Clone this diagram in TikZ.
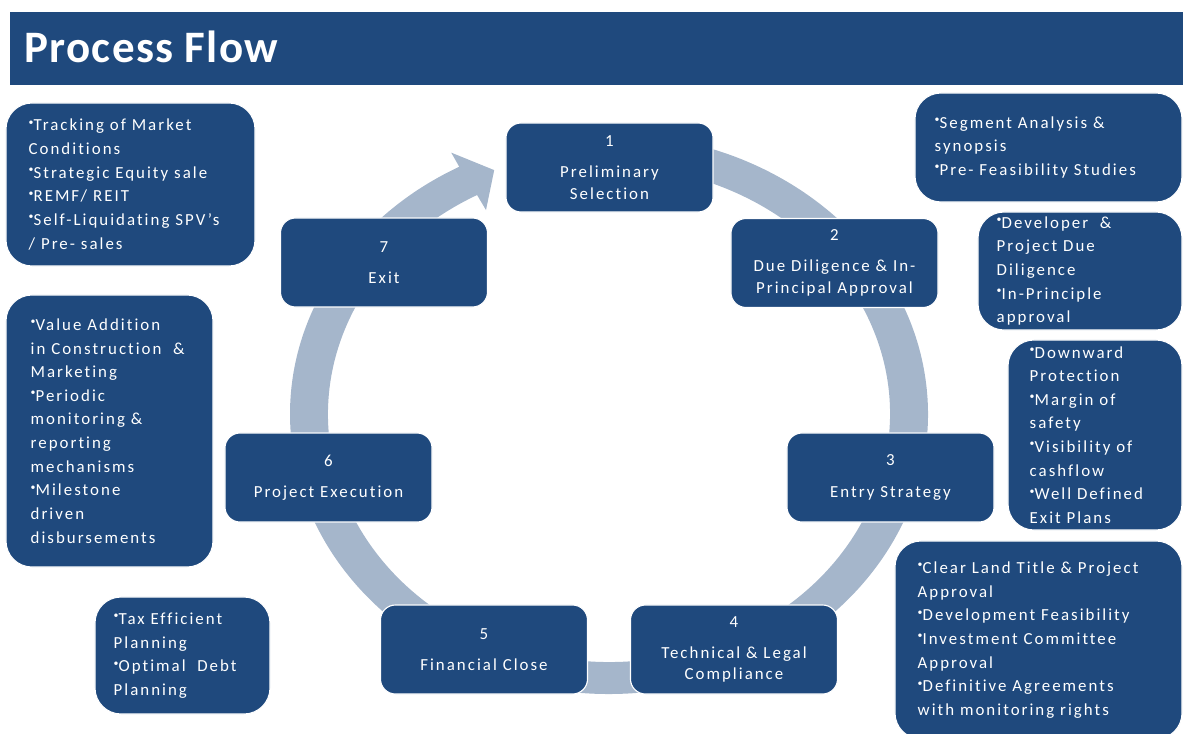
\documentclass[tikz,border=0pt]{standalone}
\usepackage{fontspec}
\setmainfont{Carlito}
\newfontfamily\spacedfont[LetterSpace=12, Ligatures=NoCommon]{Carlito}
\newfontfamily\headfont[LetterSpace=3]{Carlito}
\usetikzlibrary{calc}
\definecolor{flowblue}{HTML}{1F497D}
\colorlet{ringblue}{flowblue!40}
\newcommand{\bul}{\raisebox{4pt}{\fontsize{7}{7}\selectfont•}}
\tikzset{
	stagebox/.style={draw=white, line width=0.8pt, fill=flowblue, rounded corners=0.375cm,
		minimum width=5.175cm, minimum height=2.225cm, inner sep=0pt, align=center,
		text=white, font=\spacedfont\fontsize{12}{15.3}\selectfont},
	notebox/.style={draw=white, line width=0.8pt, fill=flowblue, rounded corners=0.65cm},
	notetext/.style={anchor=west, inner sep=0pt, align=left, text=white,
		font=\spacedfont\fontsize{12}{16.8}\selectfont}
}

\begin{document}
\begin{tikzpicture}[x=0.025cm, y=0.025cm]
			%%%%% START %%%%%
			\useasboundingbox (0, 0) rectangle (1183, 733);
			
			\fill[flowblue] (10, 648) rectangle (1183, 721);
			\node[anchor=base west, inner sep=0pt, text=white, font=\headfont\bfseries\fontsize{32}{36}\selectfont] (title) at (24, 670) {Process Flow};
			
			% ring with arrow head into stage 1
			\coordinate (ring) at (609, 319);
			\fill[ringblue] ($(ring)+(95:319 and 280)$) arc[start angle=95, end angle=-242, x radius=319, y radius=280]
				-- ($(ring)+(118:336 and 296)$) -- ($(ring)+(112.5:300 and 264)$) -- ($(ring)+(118:262 and 231)$)
				-- ($(ring)+(118:281 and 248)$) arc[start angle=-242, end angle=95, x radius=281, y radius=248] -- cycle;
			
			% stages
			\node[stagebox] (prelim) at (609.5, 565.5) {1\\[6.8pt]Preliminary\\Selection};
			\node[stagebox] (diligence) at (834.5, 470) {2\\[6.8pt]Due Diligence \& In-\\Principal Approval};
			\node[stagebox] (entry) at (890.5, 255.5) {3\\[6.8pt]Entry Strategy};
			\node[stagebox] (legal) at (734, 83.5) {4\\[6.8pt]Technical \& Legal\\Compliance};
			\node[stagebox] (finclose) at (484, 83.5) {5\\[6.8pt]Financial Close};
			\node[stagebox] (execution) at (328.5, 255.5) {6\\[6.8pt]Project Execution};
			\node[stagebox] (exit) at (384, 470.5) {7\\[6.8pt]Exit};
			
			% notes left
			\node[notebox, minimum width=6.225cm, minimum height=4.075cm] (exitbox) at (130.5, 548.5) {};
			\node[notetext] (exittext) at ([xshift=0.575cm]exitbox.west) {\bul Tracking of Market\\Conditions\\\bul Strategic Equity sale\\\bul REMF/ REIT\\\bul Self-Liquidating SPV’s\\/ Pre- sales};
			
			\node[notebox, minimum width=5.175cm, minimum height=6.8cm] (execbox) at (109.5, 302) {};
			\node[notetext] (exectext) at ([xshift=0.625cm]execbox.west) {\bul Value Addition\\in Construction \ \&\\Marketing\\\bul Periodic\\monitoring \&\\reporting\\mechanisms\\\bul Milestone\\driven\\disbursements};
			
			\node[notebox, minimum width=4.375cm, minimum height=2.925cm] (finbox) at (182.5, 77.5) {};
			\node[notetext] (fintext) at ([xshift=0.475cm]finbox.west) {\bul Tax Efficient\\Planning\\\bul Optimal \ Debt\\Planning};
			
			% notes right
			\node[notebox, minimum width=6.675cm, minimum height=2.725cm] (prelimbox) at (1048.5, 585.5) {};
			\node[notetext] (prelimtext) at ([xshift=0.5cm]prelimbox.west) {\bul Segment Analysis \&\\synopsis\\\bul Pre- Feasibility Studies};
			
			\node[notebox, minimum width=5.1cm, minimum height=2.95cm] (dilibox) at (1080, 462) {};
			\node[notetext] (dilitext) at ([xshift=0.475cm]dilibox.west) {\bul Developer \ \&\\Project Due\\Diligence\\\bul In-Principle\\approval};
			
			\node[notebox, minimum width=4.35cm, minimum height=4.75cm] (entrybox) at (1095, 298) {};
			\node[notetext] (entrytext) at ([xshift=0.55cm]entrybox.west) {\bul Downward\\Protection\\\bul Margin of\\safety\\\bul Visibility of\\cashflow\\\bul Well Defined\\Exit Plans};
			
			\node[notebox, minimum width=7.175cm, minimum height=4.95cm] (legalbox) at (1038.5, 93) {};
			\node[notetext] (legaltext) at ([xshift=0.575cm]legalbox.west) {\bul Clear Land Title \& Project\\Approval\\\bul Development Feasibility\\\bul Investment Committee\\Approval\\\bul Definitive Agreements\\with monitoring rights};
			%%%%% END %%%%%
\end{tikzpicture}
\end{document}
